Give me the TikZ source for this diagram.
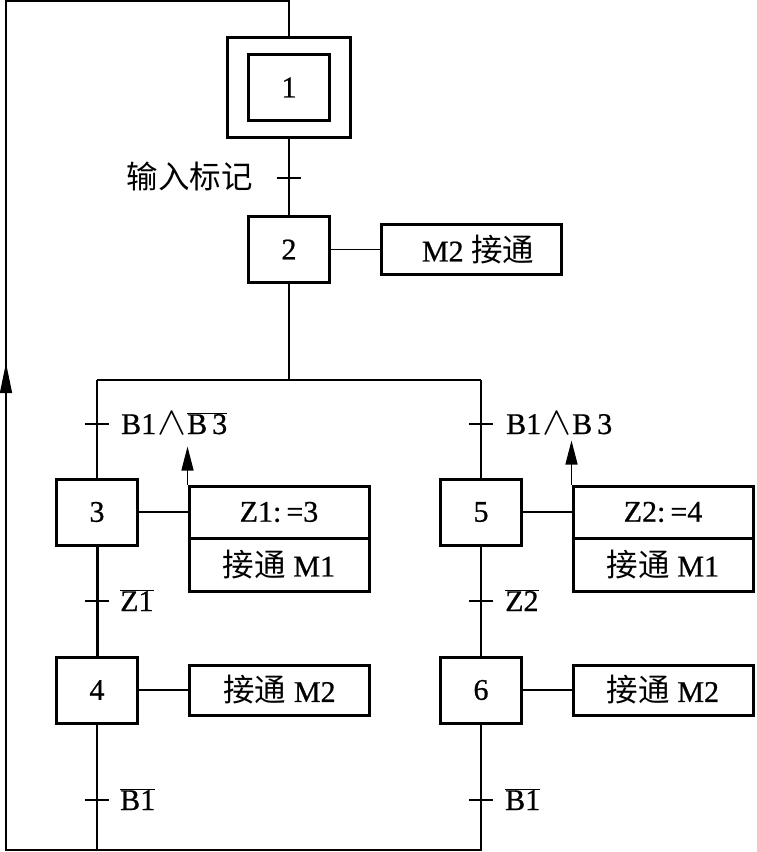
\documentclass[tikz,border=0pt]{standalone}
\usepackage{fontspec}
\setmainfont{Liberation Serif}[FakeBold=0.7]
\newfontfamily\cjk[Scale=1.05]{Noto Sans CJK SC}
\usetikzlibrary{arrows.meta}
\newcommand{\ovl}[1]{$\overline{\hbox{#1}}$}
\newcommand{\myand}{\kern1pt\scalebox{1.75}[1.6]{$\wedge$}\kern1pt}
\begin{document}
\begin{tikzpicture}[x=1pt,y=-1pt,
  every node/.style={font=\fontsize{30}{33}\selectfont},
  stepbox/.style={draw,line width=3pt,minimum width=81pt,minimum height=66pt,inner sep=0pt},
  actbox/.style={draw,line width=3pt,minimum width=180pt,minimum height=50pt,inner sep=0pt},
  conn/.style={line width=1.4pt},
  thickconn/.style={line width=3pt},
  lbl/.style={anchor=base west,inner sep=0pt},
  tip/.style={-{Triangle[length=24pt,width=12pt]}},
  looptip/.style={-{Triangle[length=30pt,width=12pt]}}]
\useasboundingbox (0,0) rectangle (756,852);

% steps
\node[stepbox,minimum width=123pt,minimum height=100pt] (s1o) at (289,87.5) {};
\node[stepbox] (s1) at (289,87.5) {1};
\node[stepbox] (s2) at (289,249.5) {2};
\node[stepbox] (s3) at (97,512) {3};
\node[stepbox] (s4) at (97,690) {4};
\node[stepbox] (s5) at (481,512) {5};
\node[stepbox] (s6) at (481,690) {6};

% actions
\node[actbox] (a2) at (471,249.5) {\hspace*{14pt}M2 {\cjk 接通}};
\node[actbox,minimum height=52pt] (a3t) at (279,512) {Z1:\,=3};
\node[actbox,minimum height=53pt] (a3b) at (279,564.5) {{\cjk 接通} M1};
\node[actbox,minimum height=52pt] (a5t) at (663,512) {Z2:\,=4};
\node[actbox,minimum height=53pt] (a5b) at (663,564.5) {{\cjk 接通} M1};
\node[actbox] (a4) at (279.5,690) {{\cjk 接通} M2};
\node[actbox] (a6) at (663,690) {{\cjk 接通} M2};

% junction coordinates
\coordinate (brk) at (289,380);
\coordinate (bl) at (97,380);
\coordinate (br) at (481,380);
\coordinate (el) at (97,850);
\coordinate (er) at (481,850);
\coordinate (lb) at (6,850);
\coordinate (lt) at (6,1);
\coordinate (arb) at (6,393);
\coordinate (art) at (6,363);

% transitions
\coordinate (t12) at (289,178);
\coordinate (t3) at (97,424);
\coordinate (t5) at (481,424);
\coordinate (t34) at (97,601);
\coordinate (t56) at (481,601);
\coordinate (t4e) at (97,800);
\coordinate (t6e) at (481,800);
\foreach \t in {t12,t3,t5,t34,t56,t4e,t6e}
  \draw[conn] ([xshift=-12pt]\t) -- ([xshift=12pt]\t);

% connectors
\draw[conn] (s1o.south) -- (s2.north);
\draw[conn] (s2.east) -- (a2.west);
\draw[conn] (s2.south) -- (brk);
\draw[conn] (bl) -- (br);
\draw[conn] (bl) -- (s3.north);
\draw[conn] (br) -- (s5.north);
\draw[conn] (s3.east) -- (a3t.west);
\draw[conn] (s5.east) -- (a5t.west);
\draw[thickconn] (s3.south) -- (s4.north);
\draw[conn] (s5.south) -- (s6.north);
\draw[conn] (s4.east) -- (a4.west);
\draw[conn] (s6.east) -- (a6.west);
\draw[conn] (s4.south) -- (el);
\draw[conn] (s6.south) -- (er) -- (lb) -- (lt) -| (s1o.north);
\draw[conn,looptip] (arb) -- (art);
\draw[conn,tip] (a3t.north west) -- ++(0,-38);
\draw[conn,tip] (a5t.north west) -- ++(0,-44);

% labels
\node[anchor=base east,inner sep=0pt] (l12) at (253,188) {\cjk 输入标记};
\node[lbl] (l3) at (121,434) {B1\myand\ovl{B\,3}};
\node[lbl] (l5) at (506,434) {B1\myand B\,3};
\node[lbl] (l34) at (120,611) {\ovl{Z1}};
\node[lbl] (l56) at (505,611) {\ovl{Z2}};
\node[lbl] (l4e) at (120,810) {\ovl{B1}};
\node[lbl] (l6e) at (505,810) {\ovl{B1}};
\end{tikzpicture}
\end{document}
